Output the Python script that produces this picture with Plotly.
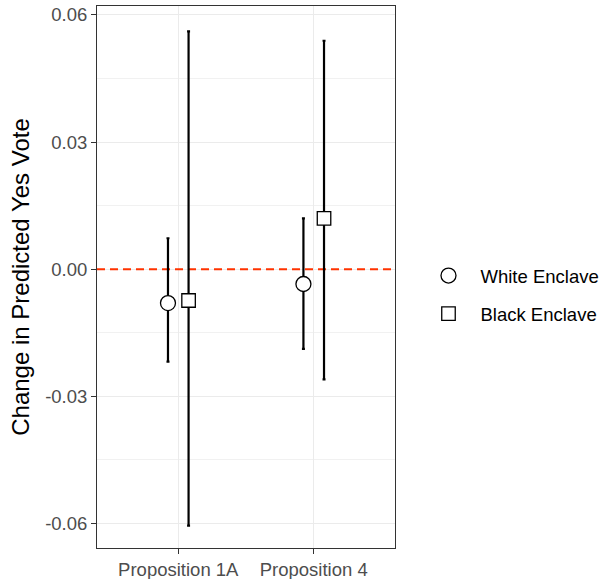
import plotly.graph_objects as go

# Estimated effects with 95% confidence intervals
propositions = ["Proposition 1A", "Proposition 4"]
groups = ["White Enclave", "Black Enclave"]
estimates = {
    "White Enclave": [-0.0080, -0.0035],
    "Black Enclave": [-0.0074, 0.0120],
}
ci_low = {
    "White Enclave": [-0.0218, -0.0188],
    "Black Enclave": [-0.0605, -0.0260],
}
ci_high = {
    "White Enclave": [0.0073, 0.0120],
    "Black Enclave": [0.0561, 0.0539],
}
y_ticks = [-0.06, -0.03, 0.00, 0.03, 0.06]
x_range = [0.4, 2.6]

symbols = {"White Enclave": "circle", "Black Enclave": "square"}
sizes = {"White Enclave": 15, "Black Enclave": 13.5}
dodge = {"White Enclave": -0.076, "Black Enclave": 0.076}

font_family = "Liberation Sans, Arial, sans-serif"

fig = go.Figure()

# Reference line at zero, drawn first so the points sit on top of it
fig.add_trace(go.Scatter(
    x=x_range, y=[0, 0], mode="lines", showlegend=False, hoverinfo="skip",
    line=dict(color="#FF3300", width=2, dash="8px,5px"),
))

for g in groups:
    xs = [i + 1 + dodge[g] for i in range(len(propositions))]
    est = estimates[g]
    plus = [h - e for h, e in zip(ci_high[g], est)]
    minus = [e - l for e, l in zip(est, ci_low[g])]
    fig.add_trace(go.Scatter(
        x=xs, y=est, mode="markers", name=g,
        legendgroup=g,
        marker=dict(symbol=symbols[g], size=sizes[g], color="white",
                    line=dict(color="black", width=1.3)),
        error_y=dict(type="data", symmetric=False, array=plus, arrayminus=minus,
                     color="black", thickness=2.2, width=1.5),
    ))

fig.update_layout(
    width=603, height=579,
    margin=dict(l=97, r=208, t=6, b=31),
    paper_bgcolor="white", plot_bgcolor="white",
    font=dict(family=font_family, color="black"),
    showlegend=True,
    legend=dict(xref="container", x=0.6907, xanchor="left",
                yref="container", y=0.4905, yanchor="middle",
                font=dict(size=18.5, color="black", family=font_family),
                itemwidth=54, traceorder="grouped", tracegroupgap=11,
                bgcolor="rgba(0,0,0,0)"),
)

fig.update_xaxes(
    range=x_range, tickmode="array", tickvals=[1, 2], ticktext=propositions,
    automargin=False,
    showgrid=True, gridcolor="#EBEBEB", gridwidth=1.1,
    zeroline=False, showline=True, linecolor="#333333", linewidth=1, mirror=True,
    ticks="outside", ticklen=5, tickcolor="#333333", tickwidth=1.1,
    tickfont=dict(size=18.5, color="#4D4D4D", family=font_family),
)

fig.update_yaxes(
    range=[-0.0658, 0.0621], tickmode="array", tickvals=y_ticks,
    ticktext=[f"{v:.2f}" for v in y_ticks],
    automargin=False,
    showgrid=True, gridcolor="#EBEBEB", gridwidth=1.1,
    minor=dict(tick0=0.015, dtick=0.03, showgrid=True, gridcolor="#F1F1F1",
               gridwidth=0.6, ticks=""),
    zeroline=False, showline=True, linecolor="#333333", linewidth=1, mirror=True,
    ticks="outside", ticklen=5, tickcolor="#333333", tickwidth=1.1,
    tickfont=dict(size=18.5, color="#4D4D4D", family=font_family),
    title=dict(text="Change in Predicted Yes Vote", standoff=8,
               font=dict(size=24, color="black", family=font_family)),
)

fig.write_html("out.html")
